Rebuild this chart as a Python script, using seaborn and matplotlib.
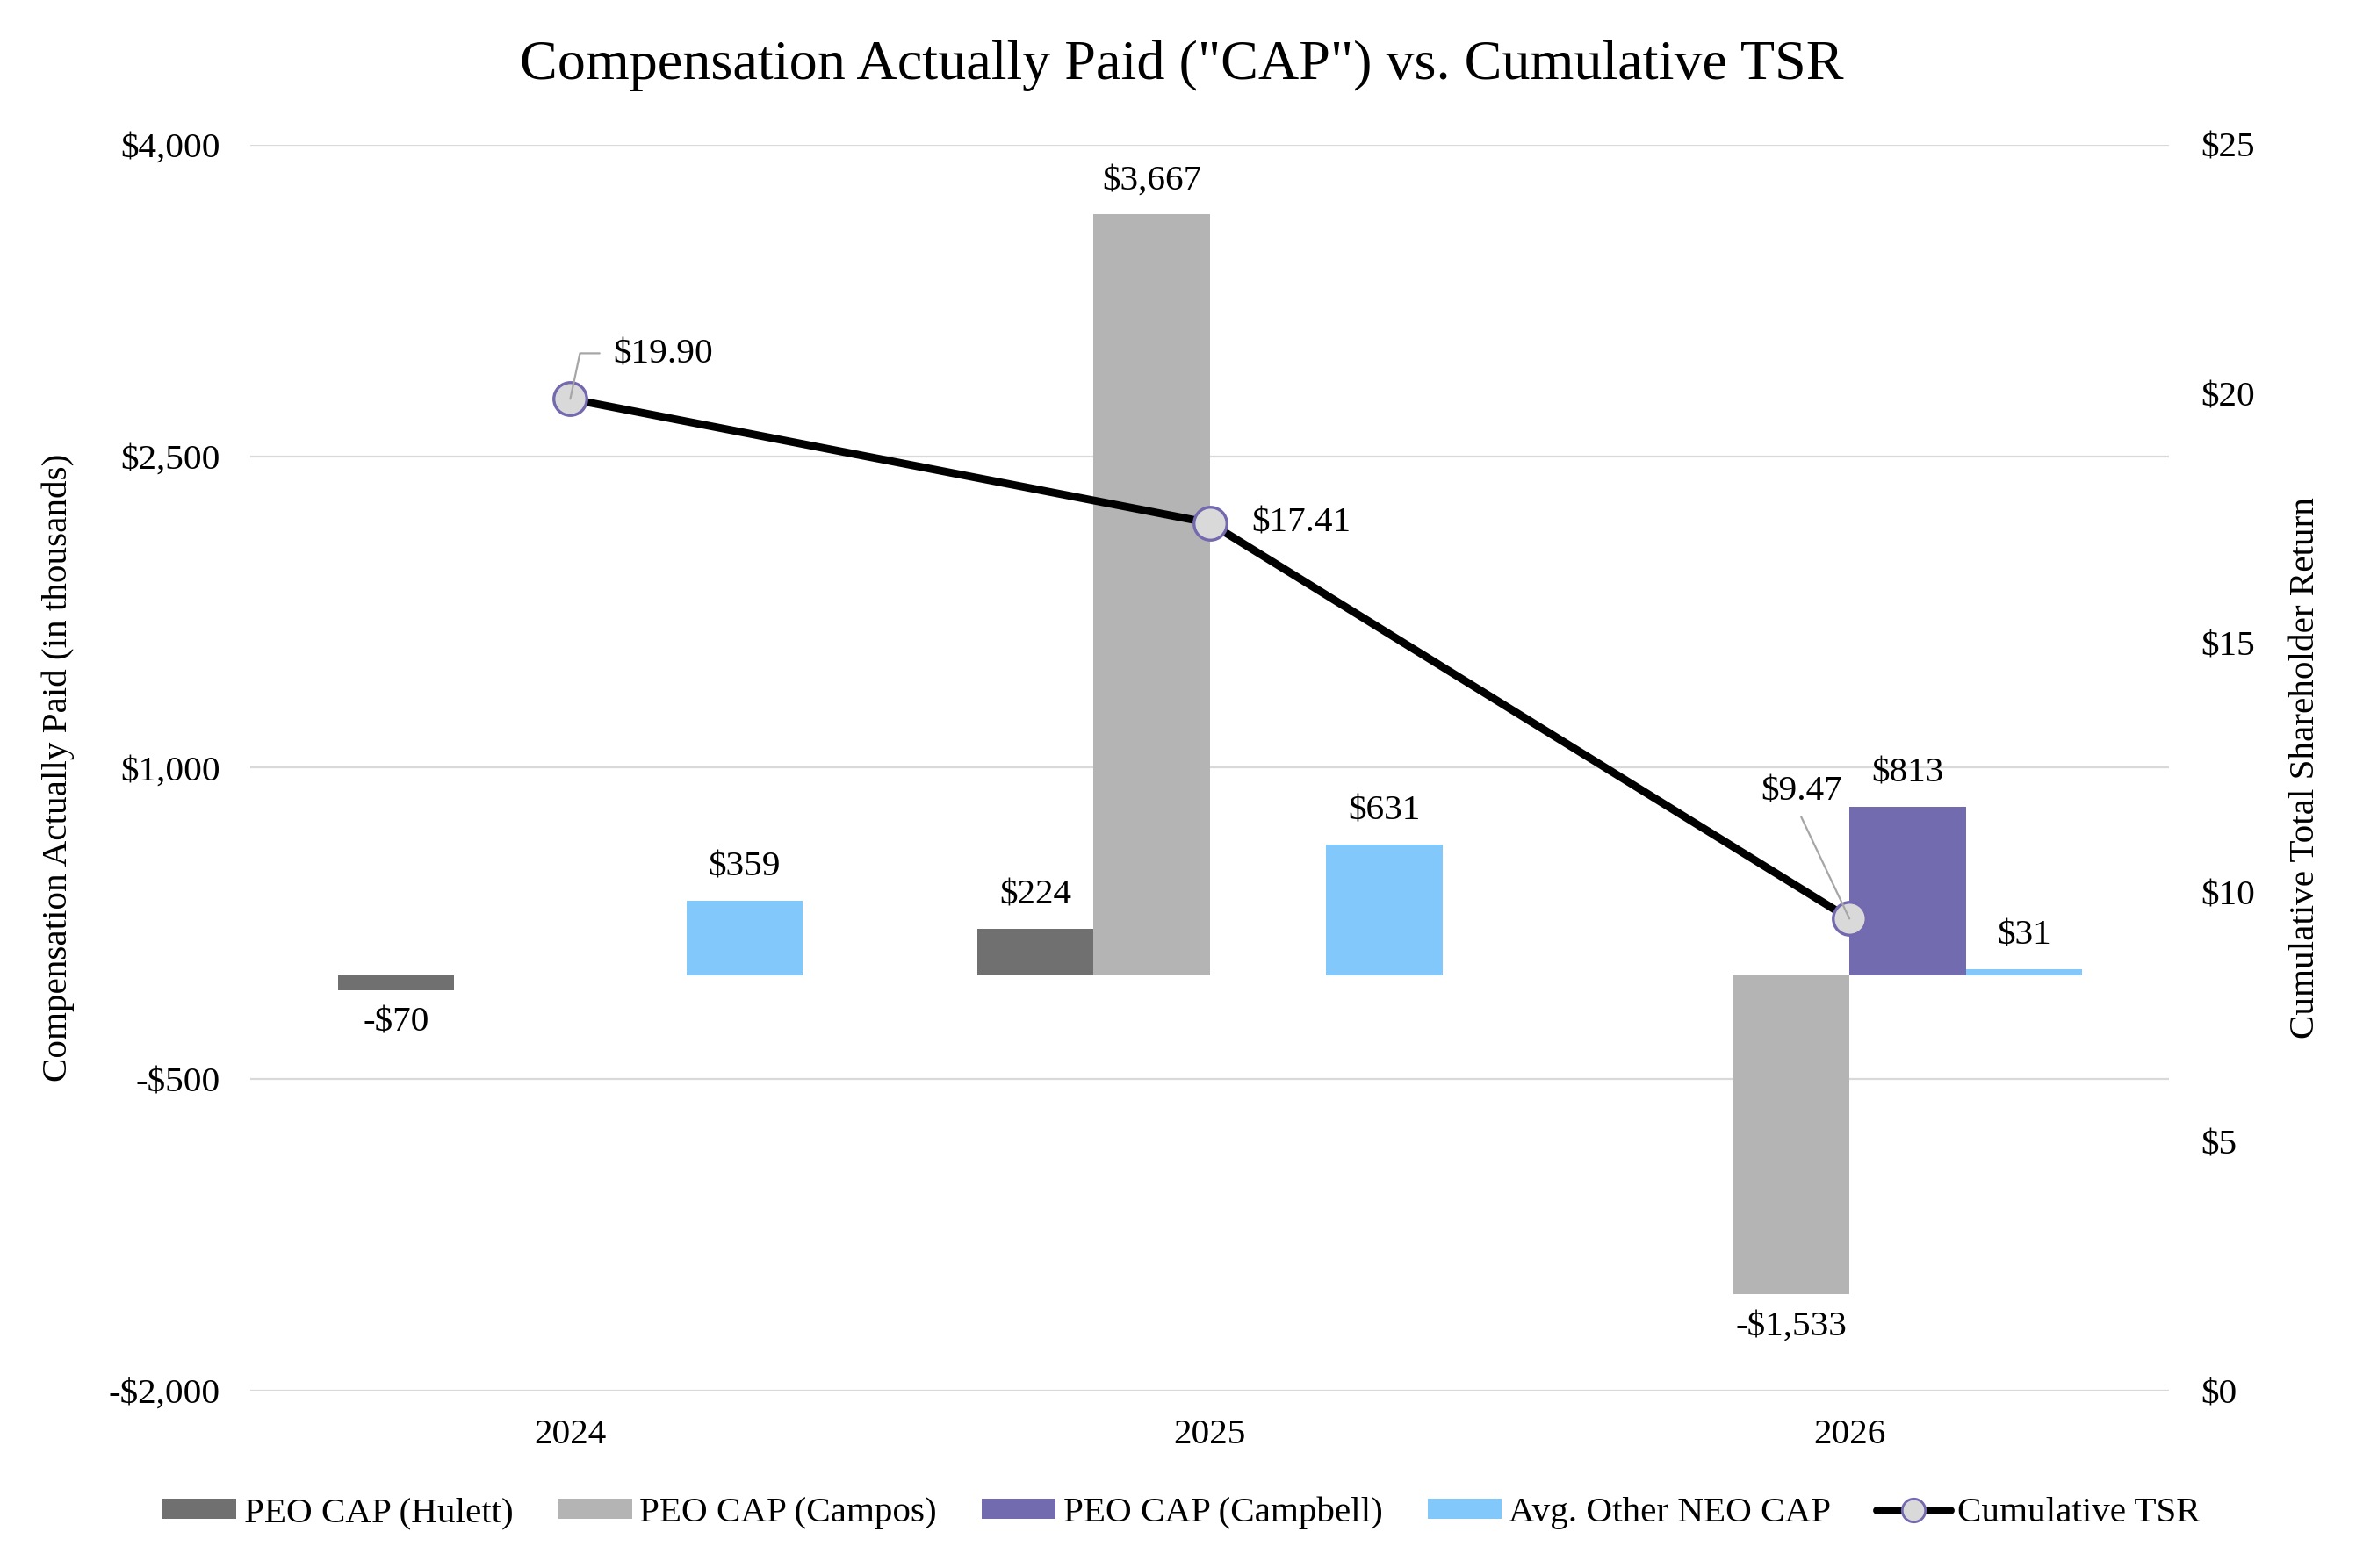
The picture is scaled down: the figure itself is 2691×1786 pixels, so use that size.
import pandas as pd
import matplotlib.pyplot as plt
import seaborn as sns
from matplotlib.patches import Patch
from matplotlib.lines import Line2D
from matplotlib.ticker import FuncFormatter

years = ['2024', '2025', '2026']
series = ['PEO CAP (Hulett)', 'PEO CAP (Campos)', 'PEO CAP (Campbell)', 'Avg. Other NEO CAP']
hulett = [-70, 224, None]
campos = [None, 3667, -1533]
campbell = [None, None, 813]
other_neo = [359, 631, 31]
tsr = [19.90, 17.41, 9.47]
colors = ['#707070', '#b4b4b4', '#736bb0', '#82c8fa']

rows = []
for name, vals in zip(series, [hulett, campos, campbell, other_neo]):
    for y, v in zip(years, vals):
        if v is not None:
            rows.append({'year': y, 'series': name, 'value': v})
df = pd.DataFrame(rows)

sns.set_style('white')
plt.rcParams['font.family'] = ['Liberation Serif', 'DejaVu Serif']
plt.rcParams.update({'text.color': 'black', 'axes.labelcolor': 'black',
                     'xtick.color': 'black', 'ytick.color': 'black'})
fs = 14.8

fig, ax = plt.subplots(figsize=(13.455, 8.93), dpi=200)
fig.subplots_adjust(left=0.106, right=0.918, top=0.9077, bottom=0.1131)

sns.barplot(data=df, x='year', y='value', hue='series', order=years, hue_order=series,
            palette=colors, width=0.727, gap=0, errorbar=None, saturation=1,
            linewidth=0, legend=False, ax=ax)


def money(v):
    return f'-${abs(v):,.0f}' if v < 0 else f'${v:,.0f}'


for c in ax.containers:
    ax.bar_label(c, fmt=money, padding=7, fontsize=fs)

ax.set_xlim(-0.5, 2.5)
ax.set_ylim(-2000, 4000)
ax.set_yticks([-2000, -500, 1000, 2500, 4000])
ax.yaxis.set_major_formatter(FuncFormatter(lambda v, p: money(v)))
ax.grid(axis='y', color='#d9d9d9', lw=0.8)
ax.set_axisbelow(True)
ax.tick_params(axis='both', length=0, labelsize=fs)
ax.tick_params(axis='y', pad=12.5)
ax.tick_params(axis='x', pad=11.5)
ax.set_xlabel('')
ax.set_ylabel('Compensation Actually Paid (in thousands)', fontsize=fs, labelpad=14)
sns.despine(ax=ax, left=True, bottom=True)

ax2 = ax.twinx()
sns.lineplot(x=[0, 1, 2], y=tsr, ax=ax2, color='black', lw=3.2, marker='o', markersize=13.5,
             markerfacecolor='#d9d9d9', markeredgecolor='#7369af', markeredgewidth=1.2)
ax2.set_ylim(0, 25)
ax2.set_yticks([0, 5, 10, 15, 20, 25])
ax2.yaxis.set_major_formatter(FuncFormatter(lambda v, p: f'${v:.0f}'))
ax2.tick_params(axis='y', length=0, labelsize=fs, pad=13)
ax2.set_ylabel('Cumulative Total Shareholder Return', fontsize=fs, labelpad=14)
ax2.grid(False)
for s in ax2.spines.values():
    s.set_visible(False)

# TSR data labels with leader lines
lead = dict(arrowstyle='-', color='#a6a6a6', lw=0.8, shrinkA=0, shrinkB=0)
ax2.annotate('$19.90', xy=(0, tsr[0]), xytext=(17.6, 18), textcoords='offset points',
             ha='left', va='center', fontsize=fs)
ax2.annotate('', xy=(0, tsr[0]), xytext=(12, 18.7), textcoords='offset points',
             arrowprops=dict(lead, connectionstyle='angle,angleA=0,angleB=78,rad=0'))
ax2.annotate('$17.41', xy=(1, tsr[1]), xytext=(17, 0), textcoords='offset points',
             ha='left', va='center', fontsize=fs)
ax2.annotate('', xy=(2, tsr[2]), xytext=(-19.8, 41.8), textcoords='offset points',
             arrowprops=lead)
ax2.annotate('$9.47', xy=(2, tsr[2]), xytext=(-19.8, 52), textcoords='offset points',
             ha='center', va='center', fontsize=fs)

fig.suptitle('Compensation Actually Paid ("CAP") vs. Cumulative TSR', fontsize=23.1, y=0.958,
             va='center')

handles = [Patch(facecolor=c, lw=0) for c in colors]
handles.append(Line2D([], [], color='black', lw=3.2, marker='o', markersize=9.5,
                      markerfacecolor='#d9d9d9', markeredgecolor='#7369af', markeredgewidth=1.0))
fig.legend(handles, series + ['Cumulative TSR'], loc='center', bbox_to_anchor=(0.5, 0.035),
           ncol=5, frameon=False, fontsize=fs, handlelength=2.05, handleheight=0.47,
           handletextpad=0.2, columnspacing=1.25)

fig.savefig('out.png', dpi=200)
